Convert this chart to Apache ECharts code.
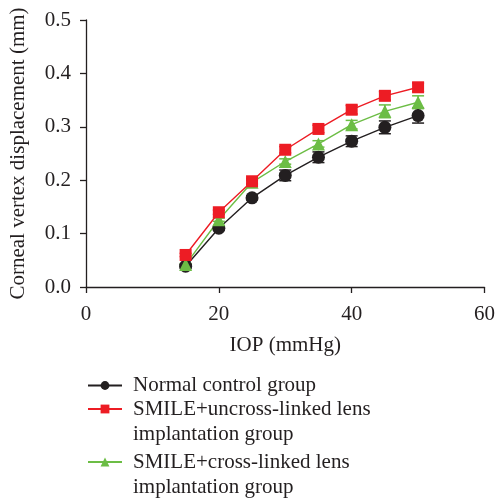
<!DOCTYPE html>
<html>
<head>
<meta charset="utf-8">
<script src="https://cdn.jsdelivr.net/npm/echarts@6/dist/echarts.min.js"></script>
</head>
<body style="margin:0;background:#fff">
<div id="main" style="width:498px;height:504px;"></div>
<script type="text/javascript">
// IOP (mmHg) points
var iop = [15, 20, 25, 30, 35, 40, 45, 50];
var names = ['Normal control group', 'SMILE+uncross-linked lens\nimplantation group', 'SMILE+cross-linked lens\nimplantation group'];
var normalVals = [0.039, 0.110, 0.167, 0.209, 0.243, 0.273, 0.299, 0.321];
var normalErr = [0.003, 0.003, 0.004, 0.010, 0.010, 0.010, 0.012, 0.014];
var uncrossVals = [0.060, 0.140, 0.198, 0.257, 0.296, 0.332, 0.358, 0.374];
var uncrossErr = [0.003, 0.004, 0.005, 0.006, 0.007, 0.008, 0.008, 0.008];
var crossVals = [0.042, 0.126, 0.196, 0.235, 0.268, 0.304, 0.329, 0.346];
var crossErr = [0.002, 0.003, 0.004, 0.005, 0.006, 0.008, 0.012, 0.012];
var colors = ['#231f20', '#ed1c24', '#6cbd45'];
var symbols = ['circle', 'rect', 'triangle'];

var font = 'Liberation Serif';
var fs = 21;
var textCol = '#231f20';

function pairs(v) {
    return iop.map(function (x, i) { return [x, v[i]]; });
}
function errData(v, e) {
    return iop.map(function (x, i) { return [x, v[i] - e[i], v[i] + e[i]]; });
}
function errSeries(v, e, col) {
    return {
        type: 'custom',
        data: errData(v, e),
        z: 1,
        silent: true,
        renderItem: function (params, api) {
            var lo = api.coord([api.value(0), api.value(1)]);
            var hi = api.coord([api.value(0), api.value(2)]);
            var w = 6;
            var st = { stroke: col, lineWidth: 1.5 };
            return {
                type: 'group',
                children: [
                    { type: 'line', shape: { x1: lo[0], y1: lo[1], x2: hi[0], y2: hi[1] }, style: st },
                    { type: 'line', shape: { x1: lo[0] - w, y1: lo[1], x2: lo[0] + w, y2: lo[1] }, style: st },
                    { type: 'line', shape: { x1: hi[0] - w, y1: hi[1], x2: hi[0] + w, y2: hi[1] }, style: st }
                ]
            };
        }
    };
}
function lineSeries(k, v, size) {
    return {
        name: names[k],
        type: 'line',
        data: pairs(v),
        symbol: symbols[k],
        symbolSize: size,
        z: 3,
        lineStyle: { color: colors[k], width: 1.4 },
        itemStyle: { color: colors[k] }
    };
}
// two-line names get a blank first line so the icon sits on the first text line
function legendFor(k, top, twoLines) {
    return {
        data: [names[k]],
        left: 87,
        top: top,
        padding: 0,
        itemWidth: 34,
        itemHeight: 11,
        formatter: function (n) { return twoLines ? ' \n' + n : n; },
        textStyle: {
            fontFamily: font,
            fontSize: fs,
            color: textCol,
            lineHeight: 25,
            padding: [0, 0, 0, 6]
        }
    };
}

var myChart = echarts.init(document.getElementById('main'));
var option = {
    animation: false,
    grid: { left: 86, right: 11, top: 20, bottom: 217 },
    legend: [
        legendFor(0, 373, false),
        legendFor(1, 371.5, true),
        legendFor(2, 424.5, true)
    ],
    xAxis: {
        type: 'value',
        min: 0, max: 60, interval: 20,
        name: 'IOP (mmHg)',
        nameLocation: 'middle',
        nameGap: 48,
        nameTextStyle: { fontFamily: font, fontSize: fs, color: textCol },
        axisLine: { lineStyle: { color: '#231f20', width: 1.3 } },
        axisTick: { show: true, length: 6, lineStyle: { color: '#231f20', width: 1.3 } },
        axisLabel: { fontFamily: font, fontSize: fs, color: textCol, margin: 17 },
        splitLine: { show: false }
    },
    yAxis: {
        type: 'value',
        min: 0, max: 0.5, interval: 0.1,
        name: 'Corneal vertex displacement (mm)',
        nameLocation: 'middle',
        nameGap: 57,
        nameTextStyle: { fontFamily: font, fontSize: fs, color: textCol },
        axisLine: { show: true, lineStyle: { color: '#231f20', width: 1.3 } },
        axisTick: { show: true, length: 6, lineStyle: { color: '#231f20', width: 1.3 } },
        axisLabel: {
            fontFamily: font, fontSize: fs, color: textCol, margin: 15,
            formatter: function (v) { return v.toFixed(1); }
        },
        splitLine: { show: false }
    },
    series: [
        errSeries(normalVals, normalErr, colors[0]),
        errSeries(crossVals, crossErr, colors[2]),
        errSeries(uncrossVals, uncrossErr, colors[1]),
        lineSeries(0, normalVals, 13),
        lineSeries(2, crossVals, 13),
        lineSeries(1, uncrossVals, 12)
    ]
};
myChart.setOption(option);
</script>
</body>
</html>
